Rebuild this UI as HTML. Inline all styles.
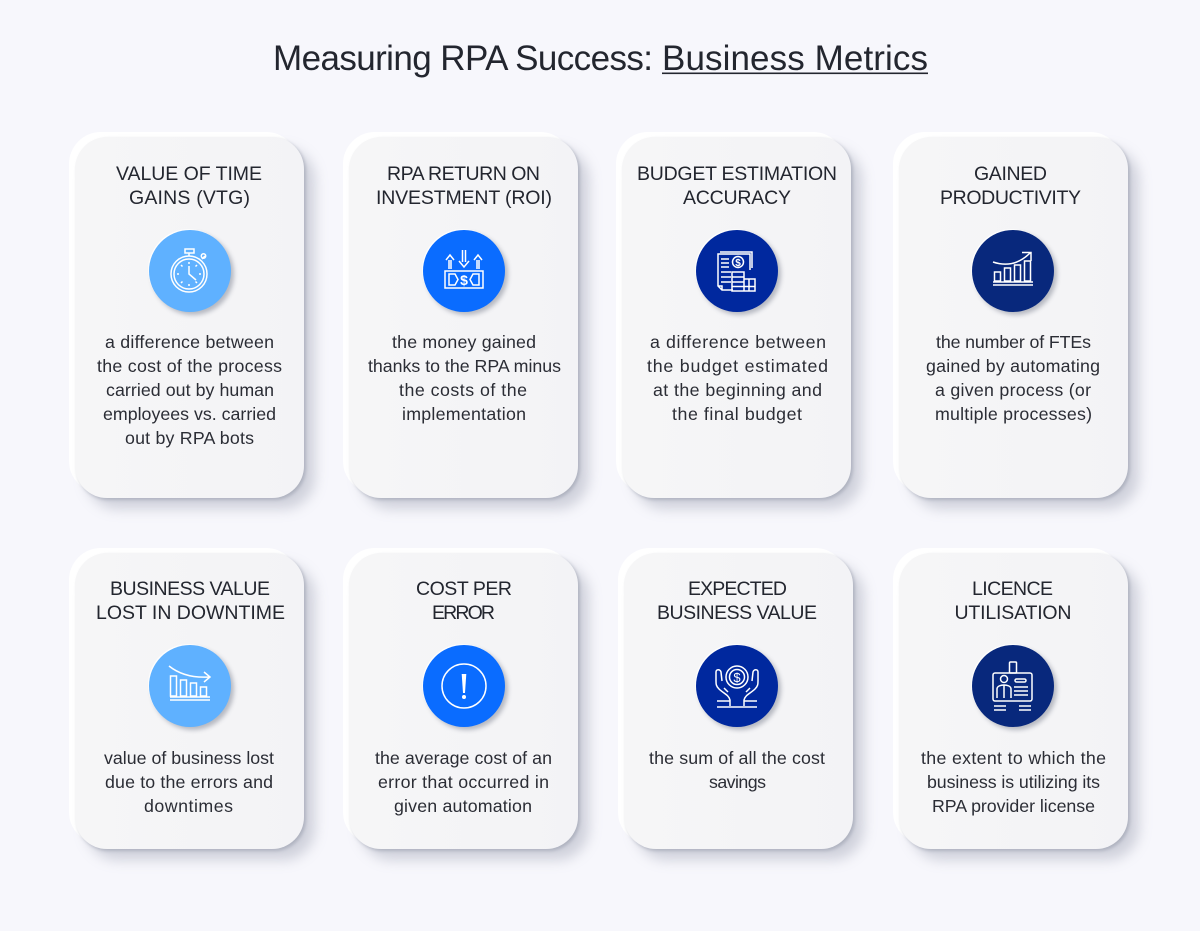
<!DOCTYPE html>
<html lang="en">
<head>
<meta charset="utf-8">
<title>Measuring RPA Success: Business Metrics</title>
<style>
html,body{margin:0;padding:0;background:#f7f7fc;}
svg{display:block;}
text{font-family:"Liberation Sans",sans-serif;fill:#23262f;text-anchor:middle;}
.t{font-size:19.5px;}
.b{font-size:17.8px;fill:#2b2d35;}
.i{fill:none;stroke:#fff;stroke-width:1.5;}
.f{fill:#fff;stroke:none;}
</style>
</head>
<body>
<svg width="1200" height="931" viewBox="0 0 1200 931" xmlns="http://www.w3.org/2000/svg">
<defs>
<filter id="s1" x="-20%" y="-20%" width="140%" height="140%"><feGaussianBlur stdDeviation="6.500"/></filter>
<filter id="s2" x="-20%" y="-20%" width="140%" height="140%"><feGaussianBlur stdDeviation="1.500"/></filter>
<filter id="s3" x="-30%" y="-30%" width="160%" height="160%"><feGaussianBlur stdDeviation="2.500"/></filter>
<linearGradient id="cg" x1="0" x2="1" y1="0" y2="0"><stop offset="0" stop-color="#f6f6f7"/><stop offset="1" stop-color="#f3f3f6"/></linearGradient>
<symbol id="card-tall" overflow="visible">
<rect x="-6" y="-5" width="229" height="361" rx="32" fill="#fff"/>
<rect x="11" y="11" width="229" height="361" rx="32" fill="#8a8fa3" opacity=".36" filter="url(#s1)"/>
<rect x="2" y="2" width="229" height="361" rx="32" fill="#8f94a4" opacity=".5" filter="url(#s2)"/>
<rect x="0" y="0" width="229" height="361" rx="32" fill="url(#cg)"/>
</symbol>
<symbol id="card-short" overflow="visible">
<rect x="-6" y="-5" width="229" height="296" rx="32" fill="#fff"/>
<rect x="11" y="11" width="229" height="296" rx="32" fill="#8a8fa3" opacity=".36" filter="url(#s1)"/>
<rect x="2" y="2" width="229" height="296" rx="32" fill="#8f94a4" opacity=".5" filter="url(#s2)"/>
<rect x="0" y="0" width="229" height="296" rx="32" fill="url(#cg)"/>
</symbol>
<symbol id="disc-shadow" overflow="visible">
<circle cx="-1" cy="-1" r="41" fill="#fff"/>
<circle cx="3" cy="3" r="41" fill="#6a6f80" opacity=".45" filter="url(#s3)"/>
</symbol>
</defs>

<rect width="1200" height="931" fill="#f7f7fc"/>

<g>
<text x="463" y="70" font-size="35" textLength="380" lengthAdjust="spacing">Measuring RPA Success:</text>
<text x="795" y="70" font-size="35" textLength="266" lengthAdjust="spacing">Business Metrics</text>
<rect x="662" y="72.500" width="266" height="1.600" fill="#23262f"/>
</g>

<!-- Card 1 -->
<g>
<use href="#card-tall" x="75" y="137"/>
<text class="t" x="189" y="180" textLength="146" lengthAdjust="spacing">VALUE OF TIME</text>
<text class="t" x="189.500" y="204" textLength="121" lengthAdjust="spacing">GAINS (VTG)</text>
<g transform="translate(190,271)">
<use href="#disc-shadow"/><circle r="41" fill="#5fb1ff"/>
<circle class="i" cx="-1" cy="3" r="18"/><circle class="i" cx="-1" cy="3" r="15" stroke-width="1"/>
<path class="i" d="M-1 -5V3L6 9M-5 -18H4V-22H-5ZM-1 -18V-15M12 -12L15 -15M-1 -9V-7M-1 13V15M-13 3H-11M9 3H11M-9 -6L-7.500 -4.500M-9 12L-7.500 10.500M7 -6L5.500 -4.500M7 12L5.500 10.500"/>
<circle class="i" cx="13.500" cy="-15" r="2.200"/>
</g>
<text class="b" x="189.500" y="348" textLength="169" lengthAdjust="spacing">a difference between</text>
<text class="b" x="189.500" y="372" textLength="185" lengthAdjust="spacing">the cost of the process</text>
<text class="b" x="190" y="396" textLength="168" lengthAdjust="spacing">carried out by human</text>
<text class="b" x="189.500" y="420" textLength="173" lengthAdjust="spacing">employees vs. carried</text>
<text class="b" x="189.500" y="444" textLength="129" lengthAdjust="spacing">out by RPA bots</text>
</g>

<!-- Card 2 -->
<g>
<use href="#card-tall" x="349" y="137"/>
<text class="t" x="463.500" y="180" textLength="153" lengthAdjust="spacing">RPA RETURN ON</text>
<text class="t" x="464" y="204" textLength="176" lengthAdjust="spacing">INVESTMENT (ROI)</text>
<g transform="translate(464,271)">
<use href="#disc-shadow"/><circle r="41" fill="#0a6cff"/>
<rect class="i" x="-19" y="0" width="38" height="17"/>
<path class="i" d="M-15 3H-9L-6 8.500L-9 14H-15ZM15 3H9L6 8.500L9 14H15Z"/>
<text x="0" y="14" font-size="14" font-weight="bold" style="fill:#fff">$</text>
<path class="i" d="M-15 -2V-11M-13 -2V-11M-18 -11L-14 -16L-10 -11M15 -2V-11M13 -2V-11M18 -11L14 -16L10 -11M-1.500 -21V-9M1.500 -21V-9M-5 -10L0 -4L5 -10"/>
</g>
<text class="b" x="464" y="348" textLength="144" lengthAdjust="spacing">the money gained</text>
<text class="b" x="464.500" y="372" textLength="193" lengthAdjust="spacing">thanks to the RPA minus</text>
<text class="b" x="463" y="396" textLength="128" lengthAdjust="spacing">the costs of the</text>
<text class="b" x="464" y="420" textLength="124" lengthAdjust="spacing">implementation</text>
</g>

<!-- Card 3 -->
<g>
<use href="#card-tall" x="622" y="137"/>
<text class="t" x="737" y="180" textLength="200" lengthAdjust="spacing">BUDGET ESTIMATION</text>
<text class="t" x="737" y="204" textLength="108" lengthAdjust="spacing">ACCURACY</text>
<g transform="translate(737,271)">
<use href="#disc-shadow"/><circle r="41" fill="#00289e"/>
<path class="i" d="M-4 19H-15L-19 15V-17H13V-1M-19 15H-15V19M-17 -19H15V-3"/>
<circle class="i" cx="1" cy="-9" r="5.500"/>
<path class="i" d="M-16 -12H-8M-16 -8H-8M-16 -4H-8M-16 1H-6M-16 6H-6M-16 11H-6"/>
<path class="i" d="M-5 1H7V20H-5ZM-5 6H7M-5 11H7M-5 15.500H18M7 8H18V20H7ZM12 8V20"/>
<text x="1" y="-5" font-size="10" font-weight="bold" style="fill:#fff">$</text>
</g>
<text class="b" x="738" y="348" textLength="176" lengthAdjust="spacing">a difference between</text>
<text class="b" x="737.500" y="372" textLength="181" lengthAdjust="spacing">the budget estimated</text>
<text class="b" x="737.500" y="396" textLength="169" lengthAdjust="spacing">at the beginning and</text>
<text class="b" x="737" y="420" textLength="130" lengthAdjust="spacing">the final budget</text>
</g>

<!-- Card 4 -->
<g>
<use href="#card-tall" x="899" y="137"/>
<text class="t" x="1010.500" y="180" textLength="73" lengthAdjust="spacing">GAINED</text>
<text class="t" x="1010.500" y="204" textLength="141" lengthAdjust="spacing">PRODUCTIVITY</text>
<g transform="translate(1013,271)">
<use href="#disc-shadow"/><circle r="41" fill="#08287c"/>
<path class="i" d="M-20 11H20M-20 14H20"/>
<rect class="i" x="-18.500" y="1" width="6" height="9"/>
<rect class="i" x="-8.500" y="-3" width="6" height="13"/>
<rect class="i" x="1.500" y="-6" width="6" height="16"/>
<rect class="i" x="11.500" y="-10" width="6" height="20"/>
<path class="i" d="M-20 -9C-5 -4 7 -8 17 -18M9 -18.500H18V-10" stroke-width="1.800"/>
</g>
<text class="b" x="1013.500" y="348" textLength="155" lengthAdjust="spacing">the number of FTEs</text>
<text class="b" x="1013" y="372" textLength="174" lengthAdjust="spacing">gained by automating</text>
<text class="b" x="1013" y="396" textLength="156" lengthAdjust="spacing">a given process (or</text>
<text class="b" x="1013.500" y="420" textLength="157" lengthAdjust="spacing">multiple processes)</text>
</g>

<!-- Card 5 -->
<g>
<use href="#card-short" x="75" y="553"/>
<text class="t" x="190" y="595" textLength="160" lengthAdjust="spacing">BUSINESS VALUE</text>
<text class="t" x="190.500" y="619" textLength="189" lengthAdjust="spacing">LOST IN DOWNTIME</text>
<g transform="translate(190,686)">
<use href="#disc-shadow"/><circle r="41" fill="#5fb1ff"/>
<path class="i" d="M-20 11H20M-20 14H20"/>
<rect class="i" x="-19.500" y="-10" width="6" height="20"/>
<rect class="i" x="-9.500" y="-6" width="6" height="16"/>
<rect class="i" x="0.500" y="-3" width="6" height="13"/>
<rect class="i" x="10.500" y="1" width="6" height="9"/>
<path class="i" d="M-21 -20C-11 -12 3 -8 19 -9M14 -14L20 -9L14 -4" stroke-width="1.800"/>
</g>
<text class="b" x="189" y="764" textLength="170" lengthAdjust="spacing">value of business lost</text>
<text class="b" x="189" y="788" textLength="168" lengthAdjust="spacing">due to the errors and</text>
<text class="b" x="188.500" y="812" textLength="89" lengthAdjust="spacing">downtimes</text>
</g>

<!-- Card 6 -->
<g>
<use href="#card-short" x="349" y="553"/>
<text class="t" x="464" y="595" textLength="96" lengthAdjust="spacing">COST PER</text>
<text class="t" x="463.500" y="619" textLength="63" lengthAdjust="spacing">ERROR</text>
<g transform="translate(464,686)">
<use href="#disc-shadow"/><circle r="41" fill="#0a6cff"/>
<circle class="i" r="22" stroke-width="1.800"/>
<path class="f" d="M-2.300 -12H2.300L1 7H-1Z"/>
<circle class="f" cy="11" r="2"/>
</g>
<text class="b" x="463.500" y="764" textLength="177" lengthAdjust="spacing">the average cost of an</text>
<text class="b" x="463.500" y="788" textLength="171" lengthAdjust="spacing">error that occurred in</text>
<text class="b" x="463" y="812" textLength="138" lengthAdjust="spacing">given automation</text>
</g>

<!-- Card 7 -->
<g>
<use href="#card-short" x="624" y="553"/>
<text class="t" x="737.500" y="595" textLength="99" lengthAdjust="spacing">EXPECTED</text>
<text class="t" x="737" y="619" textLength="160" lengthAdjust="spacing">BUSINESS VALUE</text>
<g transform="translate(737,686)">
<use href="#disc-shadow"/><circle r="41" fill="#00289e"/>
<circle class="i" cy="-9" r="11"/><circle class="i" cy="-9" r="7.500" stroke-width="1"/>
<path class="i" d="M-20 21H20M-7 20V14C-8 9 -14 7 -18 3C-21 0 -21 -2 -21 -5V-14C-21 -17 -17 -17 -16 -14L-15 -5M-13 2L-9 6M7 20V14C8 9 14 7 18 3C21 0 21 -2 21 -5V-14C21 -17 17 -17 16 -14L15 -5M13 2L9 6M-7 15H-20M7 15H20"/>
<text x="0" y="-4" font-size="13" style="fill:#fff">$</text>
</g>
<text class="b" x="737" y="764" textLength="176" lengthAdjust="spacing">the sum of all the cost</text>
<text class="b" x="737.500" y="788" textLength="57" lengthAdjust="spacing">savings</text>
</g>

<!-- Card 8 -->
<g>
<use href="#card-short" x="899" y="553"/>
<text class="t" x="1012.500" y="595" textLength="81" lengthAdjust="spacing">LICENCE</text>
<text class="t" x="1013" y="619" textLength="117" lengthAdjust="spacing">UTILISATION</text>
<g transform="translate(1013,686)">
<use href="#disc-shadow"/><circle r="41" fill="#08287c"/>
<rect class="i" x="-20" y="-13" width="39" height="28" rx="2"/>
<rect class="i" x="-3.500" y="-24" width="7" height="11" rx="1"/>
<circle class="i" cx="-9" cy="-7" r="3.500"/>
<path class="i" d="M-16 12V3C-16 0 -12 -1 -9 -1C-6 -1 -2 0 -2 3V12M-9 -1V12"/>
<rect class="i" x="2" y="-7" width="11" height="3" rx="1.500"/>
<path class="i" d="M1 1H15M1 5H15M1 9H15M-19 20H-7M-19 24H-7M6 20H18M6 24H18"/>
</g>
<text class="b" x="1013.500" y="764" textLength="185" lengthAdjust="spacing">the extent to which the</text>
<text class="b" x="1013.500" y="788" textLength="173" lengthAdjust="spacing">business is utilizing its</text>
<text class="b" x="1013.500" y="812" textLength="163" lengthAdjust="spacing">RPA provider license</text>
</g>
</svg>
</body>
</html>
